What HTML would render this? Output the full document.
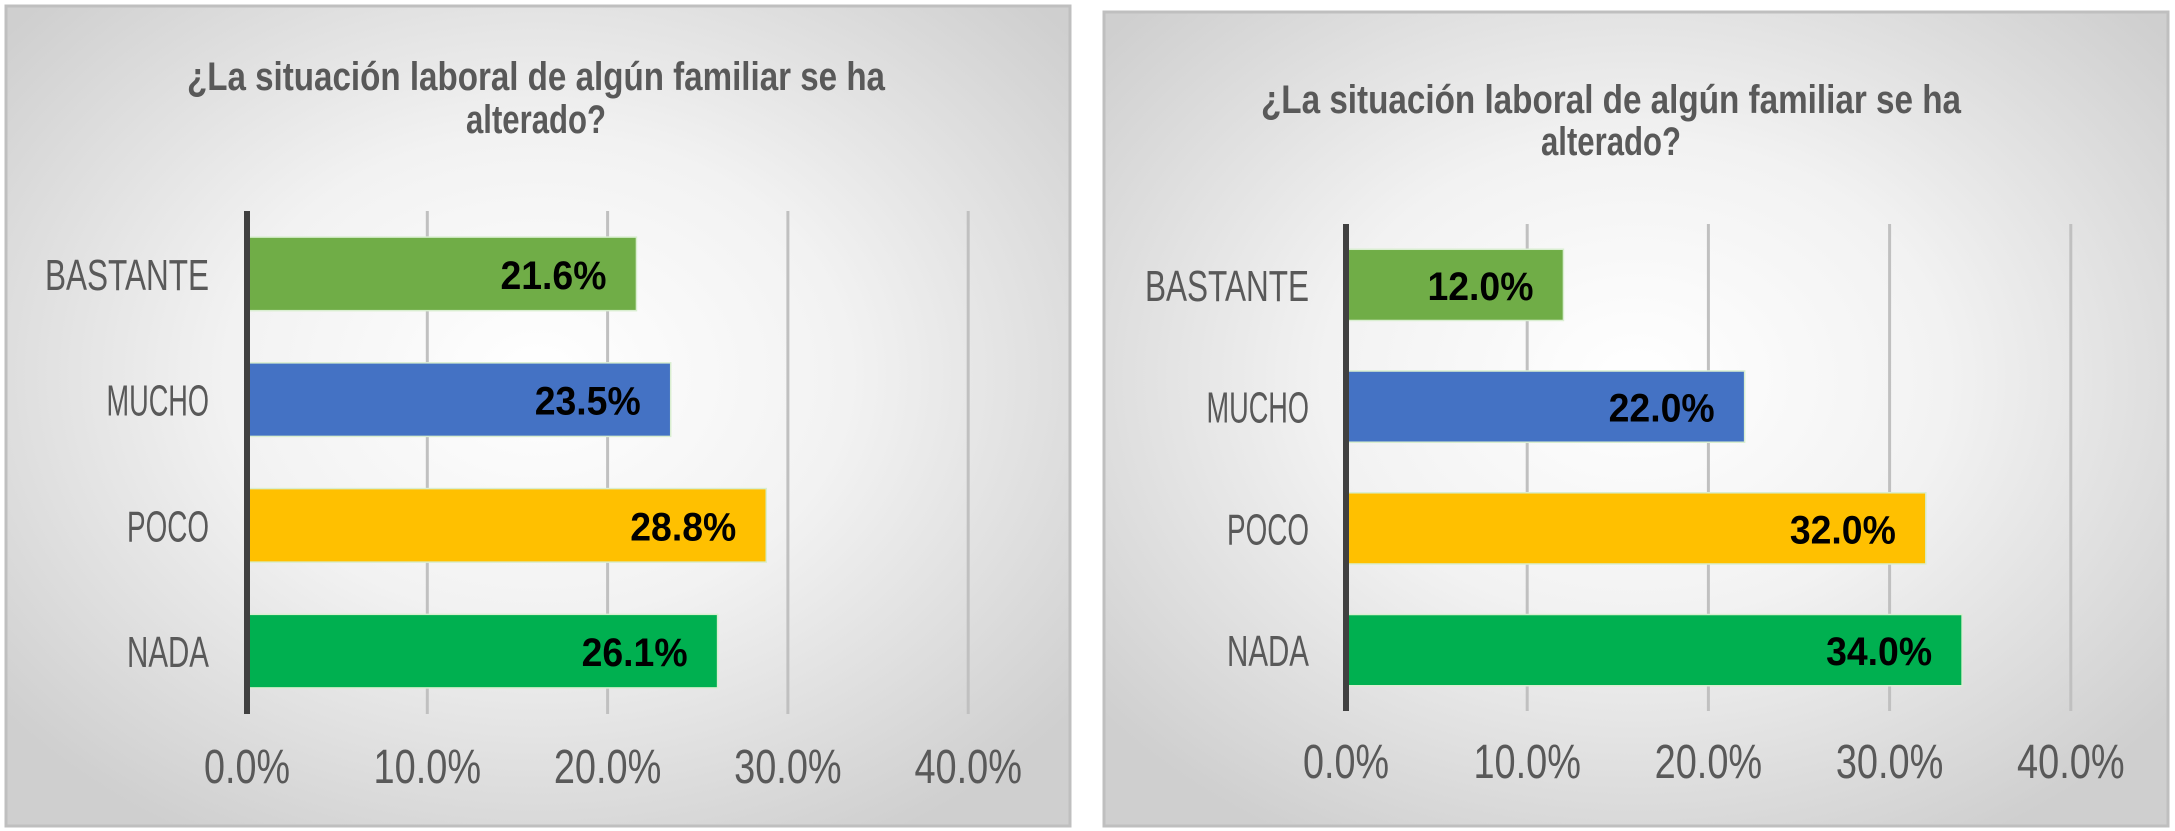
<!DOCTYPE html>
<html><head><meta charset="utf-8"><style>
html,body{margin:0;padding:0;background:#fff;width:2175px;height:831px;overflow:hidden}
svg{display:block}
</style></head><body>
<svg id="s" width="2175" height="831" xmlns="http://www.w3.org/2000/svg">
<defs>
<radialGradient id="bg" cx="50%" cy="45%" r="65%">
<stop offset="0" stop-color="#ffffff"/><stop offset="0.45" stop-color="#f2f2f2"/><stop offset="1" stop-color="#cfcfcf"/>
</radialGradient>
</defs>
</svg>
<script>
const categories = ["BASTANTE","MUCHO","POCO","NADA"];
const leftValues = [21.6, 23.5, 28.8, 26.1];
const rightValues = [12.0, 22.0, 32.0, 34.0];
const tickValues = [0, 10, 20, 30, 40];
const tickLabels = ["0.0%","10.0%","20.0%","30.0%","40.0%"];
const barColors = ["#70AD47","#4472C4","#FFC000","#00B050"];
const titleLines = ["¿La situación laboral de algún familiar se ha","alterado?"];

const NS = "http://www.w3.org/2000/svg";
const svg = document.getElementById('s');
function mk(tag, attrs, parent){const e=document.createElementNS(NS,tag);for(const k in attrs)e.setAttribute(k,attrs[k]);(parent||svg).appendChild(e);return e;}

function chart(cfg, values, prefix){
  const g = mk('g',{});
  
  
  const bg = mk('rect',{x:cfg.bx,y:cfg.by,width:cfg.bw,height:cfg.bh,fill:'url(#bg)',stroke:'#bfbfbf','stroke-width':3},g);
  
  
  const x = v => cfg.x0 + v/10*cfg.per10;
  const band = (cfg.pb - cfg.pt)/categories.length;
  titleLines.forEach((t,i)=>{
    const tt = mk('text',{x:cfg.tcx,y:cfg.ty[i],'text-anchor':'middle','font-family':'Liberation Sans, sans-serif','font-weight':'bold','font-size':40,fill:'#595959'},g);
    if(i===0){tt.setAttribute('textLength',cfg.tw);}else{tt.setAttribute('textLength',140);}
    tt.setAttribute('lengthAdjust','spacingAndGlyphs');
    tt.textContent = t;
    
    
  });
  tickValues.forEach((v,i)=>{
    if(i>0){
      const l = mk('line',{x1:x(v),x2:x(v),y1:cfg.pt,y2:cfg.pb,stroke:'#c0c0c0','stroke-width':3},g);
      
      
    }
    const tl = mk('text',{x:x(v),y:cfg.tickY,'text-anchor':'middle','font-family':'Liberation Sans, sans-serif','font-size':48,fill:'#595959',textLength:tickLabels[i].length*21.5,lengthAdjust:'spacingAndGlyphs'},g);
    tl.textContent = tickLabels[i];
    
    
  });
  categories.forEach((c,i)=>{
    const cy = cfg.pt + band*(i+0.5);
    const bh = band*0.585;
    const r = mk('rect',{x:cfg.x0,y:cy-bh/2,width:x(values[i])-cfg.x0,height:bh,fill:barColors[i],stroke:'#d9eed0','stroke-width':1.5},g);
    
    
    const vl = mk('text',{x:x(values[i])-30,y:cy+15,'text-anchor':'end','font-family':'Liberation Sans, sans-serif','font-weight':'bold','font-size':40,fill:'#000',textLength:106,lengthAdjust:'spacingAndGlyphs'},g);
    vl.textContent = values[i].toFixed(1)+'%';
    
    
    const cl = mk('text',{x:cfg.catX,y:cy+16,'text-anchor':'end','font-family':'Liberation Sans, sans-serif','font-size':44,fill:'#595959',textLength:c.length*20.5,lengthAdjust:'spacingAndGlyphs'},g);
    cl.textContent = c;
    
    
  });
  const ax = mk('line',{x1:cfg.x0,x2:cfg.x0,y1:cfg.pt,y2:cfg.pb,stroke:'#404040','stroke-width':6},g);
  
  
}

chart({bx:6,by:6,bw:1064,bh:820,x0:247,per10:180.3,pt:211,pb:714,tcx:536,tw:698,ty:[90,133],tickY:783,catX:209}, leftValues, 'left');
chart({bx:1104,by:12,bw:1064,bh:814,x0:1346,per10:181.2,pt:224,pb:711,tcx:1611,tw:700,ty:[113,155],tickY:778,catX:1309}, rightValues, 'right');
</script>
</body></html>
